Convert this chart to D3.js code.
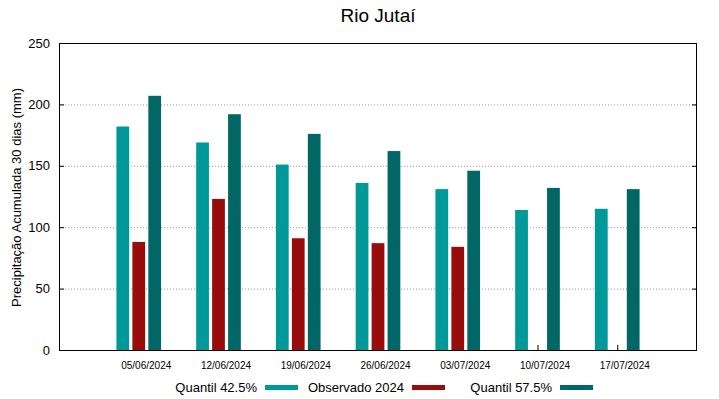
<!DOCTYPE html>
<html lang="pt">
  <head>
    <meta charset="UTF-8" />
    <title>Rio Jutaí</title>
  </head>
  <style>
    body { margin: 0; background: #fff; }
    svg { font-family: "Liberation Sans", Arial, sans-serif; }
  </style>
  <body>
    <svg id="chart" width="719" height="399"></svg>

    <script src="https://d3js.org/d3.v7.min.js"></script>
    <script>
      // dados
      const datas = ["05/06/2024", "12/06/2024", "19/06/2024", "26/06/2024", "03/07/2024", "10/07/2024", "17/07/2024"];
      const quantil425 = [182, 169, 151, 136, 131, 114, 115];
      const observado2024 = [88, 123, 91, 87, 84, null, null];
      const quantil575 = [207, 192, 176, 162, 146, 132, 131];
      const yTicks = [0, 50, 100, 150, 200, 250];

      const series = [
        { nome: "Quantil 42.5%", valores: quantil425, cor: "#009999", desloc: -0.2 },
        { nome: "Observado 2024", valores: observado2024, cor: "#990c0c", desloc: 0 },
        { nome: "Quantil 57.5%", valores: quantil575, cor: "#006666", desloc: 0.2 },
      ];

      const svg = d3.select("#chart");
      const m = { left: 59, right: 697, top: 43, bottom: 350 };

      const x = d3.scaleLinear().domain([-1, 7]).range([m.left, m.right]);
      const y = d3.scaleLinear().domain([0, 250]).range([m.bottom, m.top]);
      const barW = x(0.16) - x(0);

      // grade pontilhada
      svg.append("g")
        .selectAll("line")
        .data(yTicks.filter((t) => t > 0 && t < 250))
        .join("line")
        .attr("x1", m.left)
        .attr("x2", m.right)
        .attr("y1", (d) => y(d) + 0.5)
        .attr("y2", (d) => y(d) + 0.5)
        .attr("stroke", "#999")
        .attr("stroke-width", 1)
        .attr("stroke-dasharray", "1,2");

      // eixo y (esquerda e direita, ticks para dentro)
      const yAxis = svg.append("g")
        .attr("transform", `translate(${m.left},0)`)
        .call(d3.axisLeft(y).tickValues(yTicks).tickSize(-5).tickPadding(9));
      yAxis.select(".domain").remove();
      yAxis.selectAll("text").attr("font-size", 13).attr("fill", "#000")
        .attr("font-family", "Liberation Sans, Arial, sans-serif");

      const yAxisR = svg.append("g")
        .attr("transform", `translate(${m.right},0)`)
        .call(d3.axisRight(y).tickValues(yTicks).tickSize(-5).tickFormat(""));
      yAxisR.select(".domain").remove();

      // eixo x
      const xAxis = svg.append("g")
        .attr("transform", `translate(0,${m.bottom})`)
        .call(d3.axisBottom(x).tickValues(d3.range(datas.length))
          .tickSize(-5).tickPadding(12).tickFormat((i) => datas[i]));
      xAxis.select(".domain").remove();
      xAxis.selectAll("text").attr("font-size", 10).attr("fill", "#000")
        .attr("dx", 7)
        .attr("font-family", "Liberation Sans, Arial, sans-serif");

      // barras (por cima dos ticks)
      series.forEach((s) => {
        svg.append("g")
          .selectAll("rect")
          .data(s.valores.map((v, i) => ({ v, i })).filter((d) => d.v != null))
          .join("rect")
          .attr("x", (d) => x(d.i + s.desloc) - barW / 2)
          .attr("width", barW)
          .attr("y", (d) => y(d.v))
          .attr("height", (d) => y(0) - y(d.v))
          .attr("fill", s.cor);
      });

      // moldura
      svg.append("rect")
        .attr("x", m.left + 0.5)
        .attr("y", m.top + 0.5)
        .attr("width", m.right - m.left - 1)
        .attr("height", m.bottom - m.top)
        .attr("fill", "none")
        .attr("stroke", "#000");

      // título
      svg.append("text")
        .attr("x", (m.left + m.right) / 2)
        .attr("y", 22)
        .attr("text-anchor", "middle")
        .attr("font-size", 19)
        .text("Rio Jutaí");

      // rótulo y
      svg.append("text")
        .attr("transform", `translate(21,${(m.top + m.bottom) / 2 + 1}) rotate(-90)`)
        .attr("text-anchor", "middle")
        .attr("font-size", 13)
        .text("Precipitação Acumulada 30 dias (mm)");

      // legenda
      const legX = [257, 404, 552];
      const leg = svg.append("g");
      series.forEach((s, i) => {
        leg.append("text")
          .attr("x", legX[i])
          .attr("y", 392)
          .attr("text-anchor", "end")
          .attr("font-size", 13)
          .text(s.nome);
        leg.append("rect")
          .attr("x", legX[i] + 8)
          .attr("y", 385)
          .attr("width", 33)
          .attr("height", 5)
          .attr("fill", s.cor);
      });
    </script>
  </body>
</html>
